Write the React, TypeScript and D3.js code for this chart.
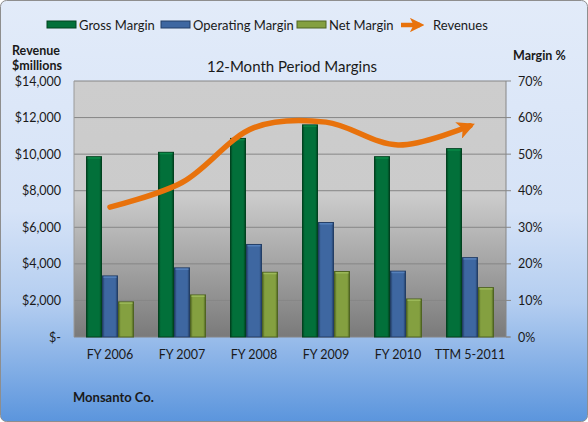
import * as d3 from 'd3';

const periods = ['FY 2006', 'FY 2007', 'FY 2008', 'FY 2009', 'FY 2010', 'TTM 5-2011'];
const grossMargin = [49.3, 50.5, 54.3, 58.0, 49.3, 51.5];
const operatingMargin = [16.7, 18.9, 25.3, 31.3, 18.0, 21.7];
const netMargin = [9.6, 11.5, 17.7, 17.9, 10.4, 13.5];
const revenues = [7100, 8450, 11450, 11750, 10500, 11550];
const revenueTicks = [0, 2000, 4000, 6000, 8000, 10000, 12000, 14000];
const marginTicks = [0, 10, 20, 30, 40, 50, 60, 70];

const W = 588;
const H = 422;
const PLOT = { left: 74, right: 506, top: 81, bottom: 337 };
const FONT = 'Lato, Open Sans, sans-serif';
const INK = '#1a1a1a';
const ORANGE = '#e8720c';

const SERIES = [
  { key: 'gross', label: 'Gross Margin', values: grossMargin, fill: '#02703a', dark: '#01421f', light: '#0a8a48' },
  { key: 'op', label: 'Operating Margin', values: operatingMargin, fill: '#3e67a1', dark: '#233e66', light: '#5580bb' },
  { key: 'net', label: 'Net Margin', values: netMargin, fill: '#84a040', dark: '#4f6422', light: '#9cb95a' },
];

export default function App() {
  const x = d3.scaleBand().domain(periods).range([PLOT.left, PLOT.right]).padding(0);
  // three bars fill the middle 2/3 of each category
  const inner = d3
    .scaleBand()
    .domain(SERIES.map((s) => s.key))
    .range([x.bandwidth() / 6, (x.bandwidth() * 5) / 6])
    .padding(0);

  const yM = d3.scaleLinear().domain([0, 70]).range([PLOT.bottom, PLOT.top]);
  const yR = d3.scaleLinear().domain([0, 14000]).range([PLOT.bottom, PLOT.top]);

  const line = d3
    .line<number>()
    .x((_, i) => x(periods[i])! + x.bandwidth() / 2)
    .y((d) => yR(d))
    .curve(d3.curveCatmullRom.alpha(0.5));

  const fmtRev = (v: number) => (v === 0 ? '$-' : '$' + d3.format(',')(v));

  const legendItems = [
    { x: 47, text: 'Gross Margin', s: SERIES[0] },
    { x: 161, text: 'Operating Margin', s: SERIES[1] },
    { x: 297, text: 'Net Margin', s: SERIES[2] },
  ];

  return (
    <svg width={W} height={H} style={{ position: 'absolute', left: 0, top: 0, fontFamily: FONT }}>
      <defs>
        <linearGradient id="bg" x1="0" y1="0" x2="0" y2="1">
          <stop offset="0" stopColor="#e2ebf9" />
          <stop offset="0.5" stopColor="#d6e3f7" />
          <stop offset="0.72" stopColor="#b3cdf0" />
          <stop offset="1" stopColor="#5b95dd" />
        </linearGradient>
        <linearGradient id="plotbg" x1="0" y1="0" x2="0" y2="1">
          <stop offset="0" stopColor="#cdcdcd" />
          <stop offset="0.45" stopColor="#cbcbcb" />
          <stop offset="1" stopColor="#7a7a7a" />
        </linearGradient>
        {SERIES.map((s) => (
          <linearGradient key={s.key} id={`g-${s.key}`} x1="0" y1="0" x2="1" y2="0">
            <stop offset="0" stopColor={s.dark} />
            <stop offset="0.15" stopColor={s.fill} />
            <stop offset="0.85" stopColor={s.fill} />
            <stop offset="1" stopColor={s.dark} />
          </linearGradient>
        ))}
        <marker
          id="arrow"
          viewBox="0 0 10 10"
          refX="7"
          refY="5"
          markerWidth="3.2"
          markerHeight="3.2"
          orient="auto"
          markerUnits="strokeWidth"
        >
          <path d="M0,0 L10,5 L0,10 L2.5,5 Z" fill={ORANGE} />
        </marker>
      </defs>

      <rect x={0.5} y={0.5} width={W - 1} height={H - 1} rx={6} fill="url(#bg)" stroke="#8e8e8e" />

      {/* legend */}
      {legendItems.map((it) => (
        <g key={it.text}>
          <rect x={it.x} y={21} width={29} height={7} fill={it.s.fill} stroke={it.s.dark} strokeWidth={1} />
          <text x={it.x + 32} y={29.5} fontSize={13} fill={INK}>
            {it.text}
          </text>
        </g>
      ))}
      <line x1={401} y1={25} x2={420} y2={25} stroke={ORANGE} strokeWidth={4.5} markerEnd="url(#arrow)" />
      <text x={433} y={29.5} fontSize={13} fill={INK}>
        Revenues
      </text>

      {/* axis titles */}
      <text x={12} y={55} fontSize={12.5} fontWeight="bold" fill={INK}>
        Revenue
      </text>
      <text x={12} y={70} fontSize={12.5} fontWeight="bold" fill={INK}>
        $millions
      </text>
      <text x={513} y={60} fontSize={12.5} fontWeight="bold" fill={INK}>
        Margin %
      </text>

      {/* plot area */}
      <rect
        x={PLOT.left}
        y={PLOT.top}
        width={PLOT.right - PLOT.left}
        height={PLOT.bottom - PLOT.top}
        fill="url(#plotbg)"
      />
      {marginTicks.map((t) => (
        <g key={t}>
          {t > 0 && (
            <line x1={PLOT.left} x2={PLOT.right} y1={yM(t)} y2={yM(t)} stroke="#868686" strokeWidth={1} />
          )}
          <line x1={PLOT.right} x2={PLOT.right + 5} y1={yM(t)} y2={yM(t)} stroke="#868686" />
          <text x={518} y={yM(t) + 4.5} fontSize={12.5} fill={INK}>
            {t}%
          </text>
        </g>
      ))}
      {revenueTicks.map((t) => (
        <text key={t} x={61} y={yR(t) + 4.5} fontSize={12.5} fill={INK} textAnchor="end">
          {fmtRev(t)}
        </text>
      ))}
      <line x1={PLOT.left} x2={PLOT.left} y1={PLOT.top} y2={PLOT.bottom} stroke="#9a9a9a" />
      <line x1={PLOT.right} x2={PLOT.right} y1={PLOT.top} y2={PLOT.bottom} stroke="#868686" />
      <line x1={PLOT.left} x2={PLOT.right + 4} y1={PLOT.bottom} y2={PLOT.bottom} stroke="#868686" />

      {/* bars */}
      {SERIES.map((s) =>
        s.values.map((v, i) => {
          const bx = x(periods[i])! + inner(s.key)!;
          const bw = inner.bandwidth();
          return (
            <g key={s.key + i}>
              <rect
                x={bx + 0.5}
                y={yM(v)}
                width={bw - 1}
                height={PLOT.bottom - yM(v)}
                fill={`url(#g-${s.key})`}
                stroke={s.dark}
                strokeWidth={1}
              />
              <rect x={bx + 1.5} y={yM(v) + 0.5} width={bw - 3} height={1.5} fill={s.light} />
            </g>
          );
        }),
      )}

      {/* revenue line */}
      <path
        d={line(revenues) ?? ''}
        fill="none"
        stroke={ORANGE}
        strokeWidth={5.5}
        strokeLinecap="round"
        markerEnd="url(#arrow)"
      />

      {/* category labels */}
      {periods.map((p) => (
        <text key={p} x={x(p)! + x.bandwidth() / 2} y={359} fontSize={12.5} fill={INK} textAnchor="middle">
          {p}
        </text>
      ))}

      <text x={292} y={72} fontSize={15} fill={INK} textAnchor="middle">
        12-Month Period Margins
      </text>

      <text x={73} y={402} fontSize={13} fontWeight="bold" fill={INK}>
        Monsanto Co.
      </text>
    </svg>
  );
}
